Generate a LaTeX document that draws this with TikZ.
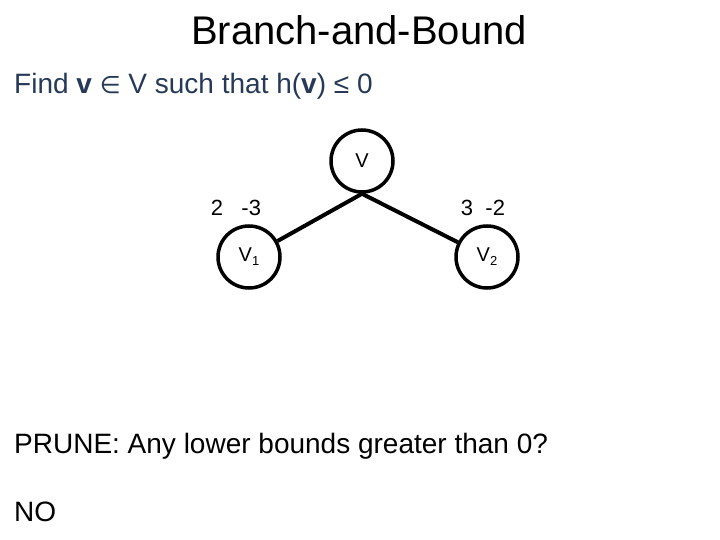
\documentclass[tikz,border=0pt]{standalone}
\usepackage{fontspec}
\setmainfont{Liberation Sans}
\newfontfamily\symfont{DejaVu Sans}
\usetikzlibrary{positioning}
\definecolor{findblue}{RGB}{38,58,88}
\newcommand{\lowsub}[1]{\raisebox{-0.4ex}{\fontsize{13}{14}\selectfont #1}}
\tikzset{
    % tree vertex
    bbnode/.style={
        circle, draw=black, fill=white,
        minimum size=62pt, inner sep=0pt,
        font=\fontsize{20}{22}\selectfont, line width=3.5pt
    },
    % tree edge
    bbedge/.style={line width=4pt, black},
    % bound labels
    bound/.style={font=\fontsize{22}{26}\selectfont},
    % plain text lines
    txt/.style={anchor=west, inner sep=0pt, font=\fontsize{28}{32}\selectfont},
}
\begin{document}
\begin{tikzpicture}[x=1pt,y=-1pt]
  \useasboundingbox (0,0) rectangle (720,540);
  % title and question
  \node (title) at (359,30) {\fontsize{40}{44}\selectfont Branch-and-Bound};
  \node[txt,text=findblue] (find) at (14,86)
     {Find \textbf{v} {\symfont\fontsize{24}{28}\selectfont ∈} V such that h(\textbf{v}) ≤ 0};

  % the tree
  \node[bbnode] (root) at (362,161) {V};
  \node[bbnode] (v1) at (249,257) {V\lowsub{1}};
  \node[bbnode] (v2) at (487,257) {V\lowsub{2}};
  \draw[bbedge] (root.south) -- (v1);
  \draw[bbedge] (root.south) -- (v2);
  \node[bound] (b1) at (236,208) {2\ \ \ -3};
  \node[bound] (b2) at (483,208) {3\ \ -2};

  % pruning question
  \node[txt] (prune) at (14,446) {PRUNE: Any lower bounds greater than 0?};
  \node[txt] (answer) at (14,512) {NO};
\end{tikzpicture}
\end{document}
